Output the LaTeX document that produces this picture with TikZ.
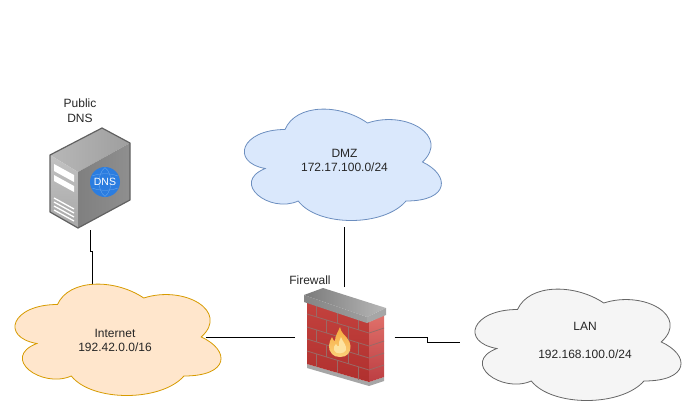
\documentclass[tikz,border=0pt]{standalone}
\usepackage{fontspec}
\setmainfont{Liberation Sans}
\usetikzlibrary{calc}
\definecolor{dmzfill}{HTML}{DAE8FC}
\definecolor{dmzline}{HTML}{6C8EBF}
\definecolor{inetfill}{HTML}{FFE6CC}
\definecolor{inetline}{HTML}{D79B00}
\definecolor{lanfill}{HTML}{F5F5F5}
\definecolor{lanline}{HTML}{666666}
\definecolor{mortarc}{HTML}{9A6A66}
\definecolor{brickhi}{HTML}{C4423E}
\definecolor{bricklo}{HTML}{B0302E}
\definecolor{sidehi}{HTML}{E0706A}
\definecolor{sidelo}{HTML}{BC3E42}
\definecolor{dnsblue}{HTML}{2B7DE0}
\definecolor{dnsgrid}{HTML}{6FAAEE}
\definecolor{flamehi}{HTML}{F6A83C}
\definecolor{flamelo}{HTML}{FBD27C}
\definecolor{flamein}{HTML}{FDE3A0}
\newcommand{\cloudpath}{(0.25,0.25) .. controls (0.05,0.25) and (0,0.5) .. (0.16,0.55)
  .. controls (0,0.66) and (0.18,0.9) .. (0.31,0.8)
  .. controls (0.4,1) and (0.7,1) .. (0.8,0.8)
  .. controls (1,0.8) and (1,0.6) .. (0.875,0.5)
  .. controls (1,0.3) and (0.8,0.1) .. (0.625,0.2)
  .. controls (0.5,0.05) and (0.3,0.05) .. (0.25,0.25) -- cycle}
\begin{document}
\begin{tikzpicture}[x=1pt,y=-1pt]
    \tikzstyle{area} = [inner sep=0pt,outer sep=0pt,minimum width=230pt,minimum height=130pt]
    \tikzstyle{icon} = [inner sep=0pt,outer sep=0pt]
    \tikzstyle{lbl} = [align=center,inner sep=0pt,font=\fontsize{12}{14.5}\selectfont,text=black!85]
    \tikzstyle{link} = [draw=black,line width=1pt]
    \tikzstyle{mortar} = [draw=mortarc,line width=0.8pt]
    \useasboundingbox (0,0) rectangle (691,408);
    \node [area] (inet) at (115,337) {};
    \node [area,minimum width=220pt] (dmz) at (340,162) {};
    \node [area] (lan) at (575,342) {};
    \node [icon,minimum width=80pt,minimum height=102pt] (dns) at (90.5,179) {};
    \node [icon,minimum width=99.5pt,minimum height=100pt] (fw) at (344.75,337) {};
    \coordinate (inetTop) at (92,292);
    \coordinate (inetSide) at (206,337);
    \coordinate (lanJog) at (427.5,342);
    \draw [link] (dns.south) -- ++(0,21) -- ++(1.5,0) -- (inetTop);
    \draw [link] (fw.west) -- (inetSide);
    \draw [link] (fw.north) -- (fw.north |- dmz.south);
    \draw [link] (fw.east) -- (lanJog |- fw.east) -- (lanJog) -- (lan.west);
    % clouds
    \begin{scope}[shift={(inet.north west)},x=230pt,y=-130pt]
      \draw [fill=inetfill,draw=inetline,line width=0.8pt] \cloudpath;
    \end{scope}
    \begin{scope}[shift={(dmz.north west)},x=220pt,y=-130pt]
      \draw [fill=dmzfill,draw=dmzline,line width=0.8pt] \cloudpath;
    \end{scope}
    \begin{scope}[shift={(lan.north west)},x=230pt,y=-130pt]
      \draw [fill=lanfill,draw=lanline,line width=0.8pt] \cloudpath;
    \end{scope}
    \node [lbl] (inettext) at (115,340.5) {Internet\\192.42.0.0/16};
    \node [lbl] (dmztext) at (344.5,160.5) {DMZ\\172.17.100.0/24};
    \node [lbl] (lantext) at (585,340.5) {LAN\\[13pt]192.168.100.0/24};
    \node [lbl] (dnstext) at (80,110.5) {Public\\DNS};
    \node [lbl] (fwtext) at (310,280.5) {Firewall};
    % server
    \shade [left color=black!28,right color=black!38] (50,155) -- (102,128) -- (130,143) -- (78,172) -- cycle;
    \shade [top color=black!24,bottom color=black!34] (50,155) -- (78,172) -- (78,228) -- (50,212) -- cycle;
    \shade [left color=black!50,right color=black!44] (78,172) -- (130,143) -- (130,200) -- (78,228) -- cycle;
    \draw [black!62,line width=1.2pt,line join=round] (50,155) -- (102,128) -- (130,143) -- (130,200) -- (78,228) -- (50,212) -- cycle;
    \fill [white] (54,164) -- (74,175) -- (74,182) -- (54,171) -- cycle;
    \fill [white] (54,175) -- (74,186) -- (74,192) -- (54,181) -- cycle;
    \foreach \y in {198,202,206,210}
      \draw [white,line width=1.3pt] (54,\y) -- (74,\y+11);
    \fill [dnsblue] (105,182) circle (15);
    \draw [dnsgrid,line width=0.3pt] (105,167.5) .. controls (97,174) and (97,190) .. (105,196.5)
      .. controls (113,190) and (113,174) .. (105,167.5);
    \draw [dnsgrid,line width=0.3pt] (92,176) .. controls (100,173) and (110,173) .. (118,176)
      (92,188) .. controls (100,191) and (110,191) .. (118,188);
    \node [text=white,inner sep=0pt,font=\fontsize{10.5}{11}\selectfont] (dnsmark) at (105,182) {DNS};
    % firewall
    \fill [black!35] (307,364) -- (369,382) -- (384,377) -- (384,381) -- (369,386) -- (307,368) -- cycle;
    \shade [top color=brickhi,bottom color=bricklo] (307,300) -- (369,322) -- (369,382) -- (307,364) -- cycle;
    \shade [top color=sidehi,bottom color=sidelo] (369,322) -- (384,315) -- (384,377) -- (369,382) -- cycle;
    \foreach \ya in {314,327,339,351} {
      \draw [mortar] (307,\ya) -- (369,\ya+19);
      \draw [mortar] (369,\ya+19) -- (384,\ya+14);
    }
    \foreach \ya/\yb/\fracs in {302/314/{.15,.49,.83},314/327/{.32,.67},327/339/{.15,.83},339/351/{.32,.67},351/364/{.15,.49,.83}}
      \foreach \u in \fracs
        \draw [mortar] ({307+62*\u},{\ya+19*\u}) -- ({307+62*\u},{\yb+19*\u});
    \shade [left color=black!52,right color=black!28] (304,295) -- (323,288) -- (386,308) -- (367,317) -- cycle;
    \shade [left color=black!48,right color=black!38] (304,295) -- (367,317) -- (367,323) -- (304,302) -- cycle;
    \fill [black!35] (367,317) -- (386,308) -- (386,315) -- (367,323) -- cycle;
    \shade [top color=flamehi,bottom color=flamelo] (340,327) .. controls (341,333) and (345,335) .. (347,338)
      .. controls (351,342) and (352,350) .. (348,354) .. controls (345,358) and (335,358) .. (332,354)
      .. controls (327,349) and (329,342) .. (332,337) .. controls (333,340) and (334,341) .. (335,341)
      .. controls (335,336) and (338,332) .. (340,327) -- cycle;
    \fill [flamein] (341,337) .. controls (342,341) and (347,345) .. (346,350)
      .. controls (345,354) and (335,355) .. (334,350) .. controls (333,347) and (335,345) .. (336,344)
      .. controls (337,346) and (338,347) .. (339,346) .. controls (338,343) and (340,340) .. (341,337) -- cycle;
\end{tikzpicture}
\end{document}
